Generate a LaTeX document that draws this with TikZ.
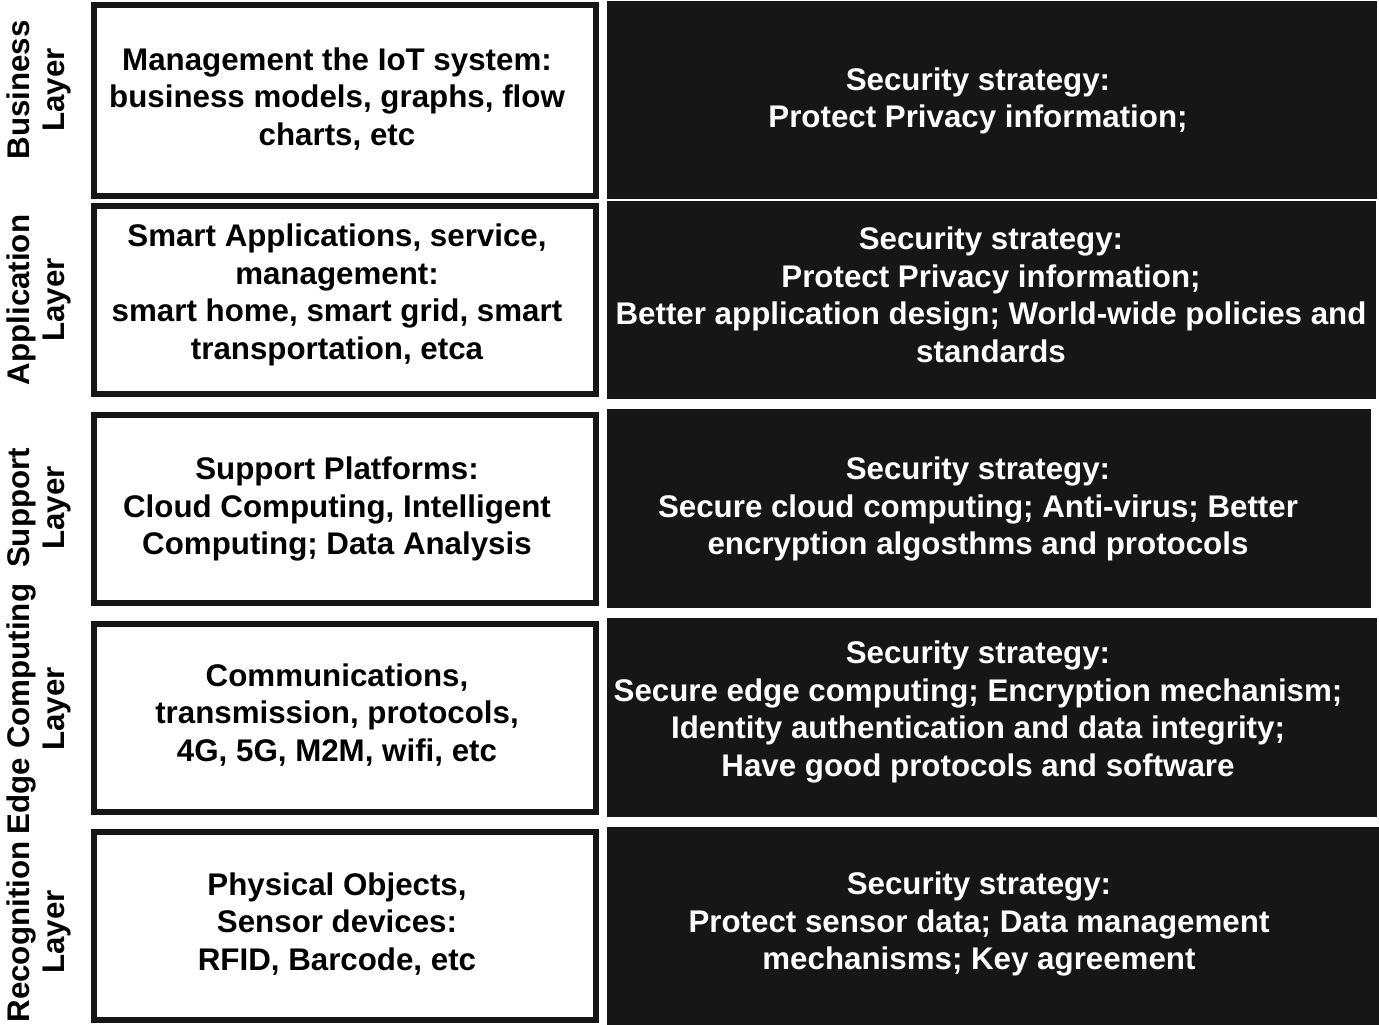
\documentclass[tikz,border=0pt]{standalone}
\usepackage{fontspec}
\setmainfont{Liberation Sans}
\definecolor{boxblack}{HTML}{161616}
\tikzset{
  x=1pt,y=-1pt,
  whitebox/.style={draw=boxblack,line width=6pt,fill=white},
  blackbox/.style={fill=boxblack},
  lefttext/.style={align=center,font=\bfseries\fontsize{31.3}{37.5}\selectfont,text=black,inner sep=0pt},
  righttext/.style={align=center,font=\bfseries\fontsize{31.3}{37.5}\selectfont,text=white,inner sep=0pt},
  layerlabel/.style={align=center,rotate=90,font=\bfseries\fontsize{31.3}{35}\selectfont,text=black,inner sep=0pt},
}
\begin{document}
\begin{tikzpicture}
\useasboundingbox (0,0) rectangle (1379,1025);
% white boxes
\draw[whitebox] (94,5) rectangle (596,196);
\draw[whitebox] (94,206) rectangle (596,394);
\draw[whitebox] (94,415) rectangle (596,603);
\draw[whitebox] (94,624) rectangle (596,812);
\draw[whitebox] (94,832) rectangle (596,1020);
% black boxes
\fill[blackbox] (607,1) rectangle (1377,199);
\fill[blackbox] (607,201) rectangle (1376,399);
\fill[blackbox] (607,409) rectangle (1371,608);
\fill[blackbox] (607,618) rectangle (1377,817);
\fill[blackbox] (607,827) rectangle (1379,1025);
% layer labels
\node[layerlabel] (lab1) at (39,90) {Business\\Layer};
\node[layerlabel] (lab2) at (39,300) {Application\\Layer};
\node[layerlabel] (lab3) at (39,508) {Support\\Layer};
\node[layerlabel] (lab4) at (39,709) {Edge Computing\\Layer};
\node[layerlabel] (lab5) at (39,932) {Recognition\\Layer};
% left texts
\node[lefttext] (l1) at (337,99) {Management the IoT system:\\business models, graphs, flow\\charts, etc};
\node[lefttext] (l2) at (337,295) {Smart Applications, service,\\management:\\smart home, smart grid, smart\\transportation, etca};
\node[lefttext] (l3) at (337,509) {Support Platforms:\\Cloud Computing, Intelligent\\Computing; Data Analysis};
\node[lefttext] (l4) at (337,715) {Communications,\\transmission, protocols,\\4G, 5G, M2M, wifi, etc};
\node[lefttext] (l5) at (337,924) {Physical Objects,\\Sensor devices:\\RFID, Barcode, etc};
% right texts
\node[righttext] (r1) at (978,101) {Security strategy:\\Protect Privacy information;};
\node[righttext] (r2) at (991,295) {Security strategy:\\Protect Privacy information;\\Better application design; World-wide policies and\\standards};
\node[righttext] (r3) at (978,509) {Security strategy:\\Secure cloud computing; Anti-virus; Better\\encryption algosthms and protocols};
\node[righttext] (r4) at (978,712) {Security strategy:\\Secure edge computing; Encryption mechanism;\\Identity authentication and data integrity;\\Have good protocols and software};
\node[righttext] (r5) at (979,924) {Security strategy:\\Protect sensor data; Data management\\mechanisms; Key agreement};
\end{tikzpicture}
\end{document}
